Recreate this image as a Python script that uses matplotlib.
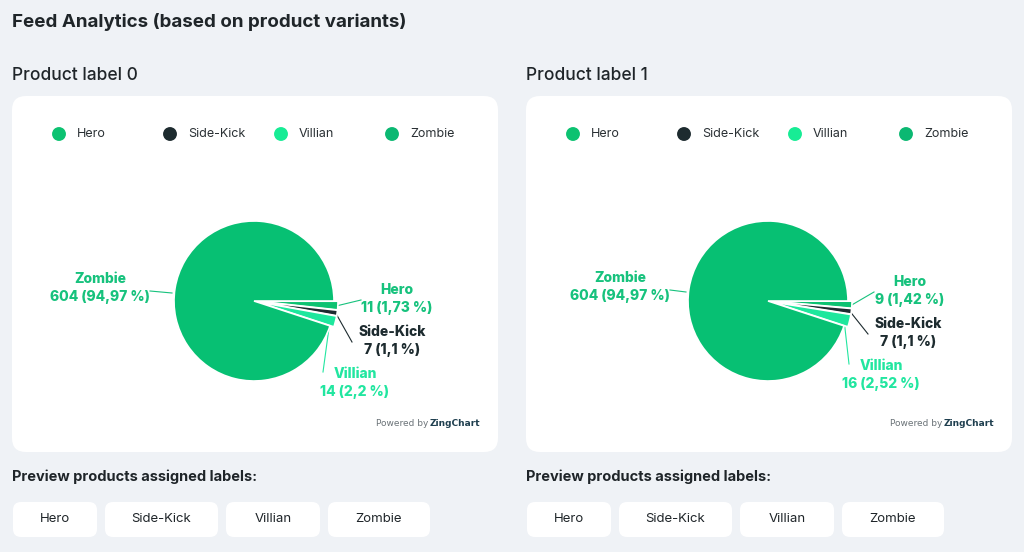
import matplotlib.pyplot as plt
import numpy as np
from matplotlib.patches import FancyBboxPatch

# ---------------------------------------------------------------------------
# Data
# ---------------------------------------------------------------------------
labels = ["Hero", "Side-Kick", "Villian", "Zombie"]
values_label0 = [11, 7, 14, 604]
values_label1 = [9, 7, 16, 604]
panel_titles = ["Product label 0", "Product label 1"]

legend_colors = ["#0cc271", "#1d2b2f", "#17ec95", "#0bb872"]
slice_colors = ["#0cc271", "#1d2b2f", "#1ee79d", "#07c073"]
text_colors = ["#17c27d", "#1d2b2f", "#22e6a0", "#17c27d"]

BG = "#eff2f6"
DARK = "#1f2529"
FONT = "Inter"

W, H = 1024, 552
fig = plt.figure(figsize=(W / 100, H / 100), dpi=100)
fig.patch.set_facecolor(BG)

# full-figure axes in pixel coordinates (y downwards)
bg = fig.add_axes([0, 0, 1, 1])
bg.set_xlim(0, W)
bg.set_ylim(H, 0)
bg.axis("off")


def card(x0, y0, x1, y1, r):
    bg.add_patch(FancyBboxPatch((x0, y0), x1 - x0, y1 - y0,
                                boxstyle=f"round,pad=0,rounding_size={r}",
                                fc="white", ec="none", zorder=1))


def pct_text(v, total):
    s = f"{v / total * 100:.2f}".rstrip("0").rstrip(".")
    return s.replace(".", ",")


bg.text(12, 22, "Feed Analytics (based on product variants)", fontsize=13.5,
        fontweight="bold", color=DARK, family=FONT, va="center")

# label positions (pixels, relative to pie centre) for Hero, Side-Kick, Villian, Zombie
label_offsets = [
    [(143, -3), (138, 39), (101, 81), (-154, -14)],
    [(142, -11), (140, 31), (113, 73), (-148, -15)],
]
panel_x = [12, 526]
button_w = [(13, 97), (105, 218), (226, 320), (328, 430)]

fig.canvas.draw()
renderer = fig.canvas.get_renderer()

for p, vals in enumerate([values_label0, values_label1]):
    x0 = panel_x[p]
    total = sum(vals)
    bg.text(x0, 76, panel_titles[p], fontsize=12.5, fontweight="medium",
            color=DARK, family=FONT, va="center")
    card(x0, 96, x0 + 486, 452, 14)

    # legend row
    for i, lab in enumerate(labels):
        lx = x0 + 47 + i * 111
        bg.scatter([lx], [134], s=100, color=legend_colors[i], zorder=3,
                   edgecolors="none")
        bg.text(lx + 18, 134, lab, fontsize=9, color="#2a3034", family=FONT,
                va="center", zorder=3)

    # pie
    cx, cy = x0 + 242, 301
    R = 80
    pax = fig.add_axes([(cx - 100) / W, (H - cy - 100) / H, 200 / W, 200 / H])
    wedges, _ = pax.pie(vals, colors=slice_colors, startangle=0,
                        counterclock=False, explode=[0.05, 0.05, 0.05, 0],
                        wedgeprops=dict(edgecolor="white", linewidth=1.2))
    pax.set_xlim(-1.25, 1.25)
    pax.set_ylim(-1.25, 1.25)
    pax.set_aspect("equal")
    pax.axis("off")

    for i, w in enumerate(wedges):
        mid = np.deg2rad((w.theta1 + w.theta2) / 2)
        ex, ey = cx + R * 1.03 * np.cos(mid), cy - R * 1.03 * np.sin(mid)
        dx, dy = label_offsets[p][i]
        tx, ty = cx + dx, cy + dy
        if i == 3:
            lx_end = tx + 50
            bg.plot([lx_end, cx - R - 2], [ty + 4, ty + 6], color=text_colors[i],
                    lw=0.8, zorder=3)
        elif i == 2:
            bg.plot([ex - 4, tx - 32], [ey, ty - 10], color=text_colors[i],
                    lw=0.8, zorder=3)
        elif i == 1:
            bg.plot([ex, tx - 40], [ey, ty + 2], color=text_colors[i],
                    lw=0.8, zorder=3)
        else:
            bg.plot([ex + 2, tx - 36], [ey, ty + 2], color=text_colors[i],
                    lw=0.8, zorder=3)
        txt = f"{labels[i]}\n{vals[i]} ({pct_text(vals[i], total)} %)"
        bg.text(tx, ty + 1, txt, fontsize=10, fontweight="heavy",
                color=text_colors[i], family=FONT, ha="center", va="center",
                linespacing=1.45, zorder=3)

    zc = bg.text(x0 + 468, 424, "ZingChart", fontsize=6.5, color="#1f3f4f",
                 fontweight="bold", family="DejaVu Sans", ha="right",
                 va="center", zorder=3)
    zw = zc.get_window_extent(renderer=renderer).width
    bg.text(x0 + 468 - zw - 1, 424, "Powered by", fontsize=6.5, color="#6b7378",
            family="DejaVu Sans", ha="right", va="center", zorder=3)

    # preview section
    bg.text(x0, 477, "Preview products assigned labels:", fontsize=10.5,
            fontweight="bold", color=DARK, family=FONT, va="center")
    for i, lab in enumerate(labels):
        bx0, bx1 = button_w[i]
        bx0 += x0 - 12
        bx1 += x0 - 12
        card(bx0, 502, bx1, 537, 8)
        bg.text((bx0 + bx1) / 2, 519.5, lab, fontsize=9.5, color=DARK,
                family=FONT, ha="center", va="center", zorder=3)

fig.savefig("out.png", dpi=100, facecolor=BG)
